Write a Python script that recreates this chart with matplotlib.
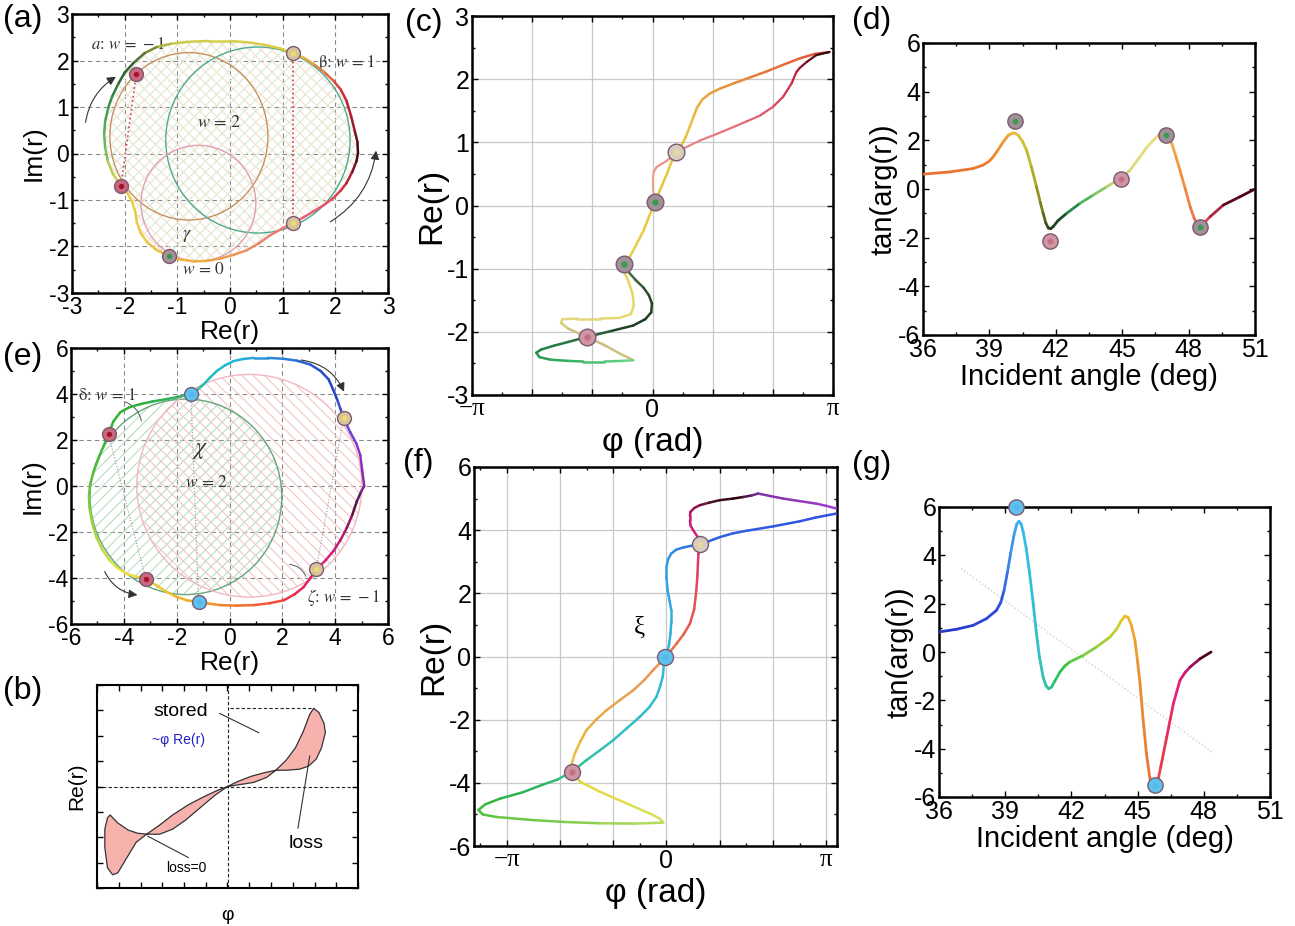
import numpy as np
import matplotlib
matplotlib.use("Agg")
import matplotlib.pyplot as plt
from matplotlib.collections import LineCollection
from matplotlib.colors import LinearSegmentedColormap
from matplotlib.patches import Ellipse, Polygon, FancyArrowPatch
from matplotlib.ticker import MultipleLocator

plt.rcParams["font.family"] = ["Liberation Sans", "DejaVu Sans"]
plt.rcParams["axes.unicode_minus"] = False
plt.rcParams["mathtext.fontset"] = "stix"
plt.rcParams["hatch.linewidth"] = 0.8

PI3 = np.pi / 3  # grid spacing of the phase axes

# ---------------- (a) reflection trajectory, first structure ----------------
a_re = [2.43, 2.42, 2.37, 2.30, 2.21, 2.10, 1.96, 1.78, 1.58, 1.40, 1.20, 0.95, 0.69, 0.35, 0.00,
        -0.40, -0.82, -1.12, -1.39, -1.62, -1.83, -2.00, -2.12, -2.24, -2.31, -2.37, -2.39, -2.37,
        -2.32, -2.22, -2.07, -1.93, -1.86, -1.80, -1.77, -1.70, -1.58, -1.40, -1.20, -0.95, -0.69,
        -0.45, -0.19, 0.07, 0.32, 0.55, 0.76, 0.98, 1.19, 1.40, 1.58, 1.78, 1.96, 2.10, 2.21, 2.32,
        2.40, 2.43]
a_im = [0.00, 0.25, 0.48, 0.80, 1.14, 1.38, 1.57, 1.76, 1.93, 2.06, 2.15, 2.26, 2.33, 2.39, 2.42,
        2.42, 2.40, 2.36, 2.29, 2.16, 1.95, 1.74, 1.50, 1.22, 0.99, 0.70, 0.41, 0.12,
        -0.17, -0.45, -0.69, -0.88, -1.03, -1.25, -1.47, -1.70, -1.90, -2.07, -2.19, -2.28, -2.32,
        -2.31, -2.26, -2.18, -2.08, -1.93, -1.76, -1.62, -1.50, -1.37, -1.25, -1.11, -0.96, -0.80,
        -0.64, -0.40, -0.17, 0.00]
a_colors = [(0, "#2a0a12"), (2, "#901828"), (4, "#c81e3a"), (6, "#e05040"), (8, "#e8a040"),
            (10, "#e0c840"), (14, "#d8d050"), (17, "#c8c848"), (19, "#607a38"), (21, "#2e5a30"),
            (24, "#3a9a50"), (27, "#70b860"), (29, "#c8d050"), (31, "#e8d040"), (36, "#ecc840"),
            (40, "#f0b040"), (44, "#ec9060"), (48, "#e87080"), (52, "#e05060"), (54, "#d02840"),
            (56, "#601020"), (57, "#2a0a12")]
# winding loops: (center x, center y, width, height, colour)
a_loops = [(-0.78, 0.37, 3.0, 3.6, "#c89060"),
           (0.53, 0.29, 3.5, 4.0, "#50a890"),
           (-0.60, -1.07, 2.18, 2.49, "#e0a0b0")]
a_pts_re = [-1.78, -2.07, -1.15, 1.19, 1.19]
a_pts_im = [1.71, -0.69, -2.21, 2.17, -1.50]
a_pts_kind = ["red", "red", "green", "sand", "sand"]

# ---------------- (c) Re(r) versus phase (phase in units of pi/3), first structure ----------------
c1_u = [2.94, 2.70, 2.45, 2.15, 1.89, 1.60, 1.34, 1.12, 0.95, 0.83, 0.74, 0.68, 0.62, 0.55, 0.48,
        0.39, 0.31, 0.24, 0.14, 0.04, -0.06, -0.15, -0.27, -0.37, -0.48, -0.47, -0.40, -0.33, -0.31,
        -0.36, -0.55, -0.87, -1.25, -1.50, -1.52, -1.40, -1.09, -0.80, -0.55, -0.38, -0.32]
c1_re = [2.43, 2.40, 2.33, 2.22, 2.12, 2.02, 1.93, 1.85, 1.77, 1.68, 1.55, 1.40, 1.25, 1.08, 0.95,
         0.84, 0.68, 0.50, 0.28, 0.05, -0.18, -0.40, -0.62, -0.80, -0.93, -1.05, -1.20, -1.40, -1.58,
         -1.72, -1.78, -1.79, -1.79, -1.80, -1.86, -1.95, -2.08, -2.21, -2.34, -2.42, -2.45]
c1_colors = [(0, "#e04a3a"), (4, "#e8783a"), (8, "#e8a03a"), (12, "#e8c040"), (19, "#e0c840"),
             (24, "#e8d050"), (29, "#e8d870"), (33, "#e0d880"), (36, "#c8c078"), (40, "#d0c080")]
c2a_u = [2.94, 2.72, 2.56, 2.45, 2.39, 2.31, 2.17, 2.00, 1.78, 1.56, 1.34, 1.06, 0.79, 0.51, 0.35,
         0.24, 0.07, 0.02, 0.01, 0.01, 0.04]
c2a_re = [2.43, 2.38, 2.27, 2.18, 2.11, 1.93, 1.72, 1.56, 1.42, 1.33, 1.24, 1.13, 1.03, 0.90, 0.80,
          0.71, 0.61, 0.53, 0.45, 0.24, 0.05]
c2a_colors = [(0, "#1a0508"), (3, "#a01030"), (5, "#d02848"), (8, "#e06070"), (12, "#e88088"),
              (15, "#f09090"), (18, "#f0a090"), (20, "#e8b080")]
c2b_u = [-0.48, -0.40, -0.28, -0.15, -0.06, -0.01, -0.02, -0.12, -0.32, -0.70, -1.09, -1.40, -1.64,
         -1.85, -1.93, -1.88, -1.70, -1.40, -1.15, -0.80, -0.50, -0.32]
c2b_re = [-0.93, -1.05, -1.18, -1.30, -1.42, -1.55, -1.69, -1.80, -1.90, -1.99, -2.08, -2.16, -2.22,
          -2.28, -2.33, -2.40, -2.44, -2.46, -2.47, -2.47, -2.46, -2.45]
c2b_colors = [(0, "#5a7a50"), (4, "#2a4a2a"), (8, "#1a3a20"), (10, "#2a6a40"), (14, "#208a48"),
              (17, "#30b060"), (19, "#50c878"), (21, "#70d890")]
c_pts_u = [0.39, 0.04, -0.48, -1.09]
c_pts_re = [0.84, 0.05, -0.93, -2.08]
c_pts_kind = ["light", "gray", "gray", "pink"]

# ---------------- (d) tan(arg r) versus incident angle, first structure ----------------
d_ang = [36.0, 37.2, 38.26, 38.71, 39.0, 39.17, 39.4, 39.62, 39.85, 40.0, 40.15, 40.3, 40.5, 40.68,
         40.9, 41.13, 41.3, 41.43, 41.55, 41.66, 41.77, 41.88, 42.1, 42.49, 43.09, 43.69, 44.3, 44.9,
         45.35, 45.8, 46.1, 46.4, 46.65, 46.86, 47.05, 47.24, 47.42, 47.61, 47.85, 48.07, 48.25,
         48.37, 48.52, 48.67, 48.97, 49.57, 50.32, 51.0]
d_tan = [0.61, 0.70, 0.84, 0.98, 1.15, 1.32, 1.62, 1.93, 2.20, 2.28, 2.30, 2.21, 1.95, 1.59,
         0.90, 0.09, -0.55, -1.00, -1.40, -1.60, -1.63, -1.55, -1.30, -1.00, -0.59, -0.25, 0.09, 0.43,
         0.77, 1.32, 1.70, 2.00, 2.22, 2.28, 2.15, 1.87, 1.35, 0.77, 0.00, -0.73, -1.20,
         -1.42, -1.50, -1.42, -1.14, -0.66, -0.32, 0.00]
d_colors = [(0, "#e87030"), (4, "#ec8030"), (7, "#f09830"), (10, "#e8c040"), (13, "#c8c030"),
            (15, "#a0a020"), (18, "#505818"), (20, "#203818"), (23, "#205030"), (24, "#30b058"),
            (26, "#a8d070"), (28, "#e0d878"), (31, "#e8e080"), (33, "#f0c860"), (36, "#f0a040"),
            (39, "#f08048"), (42, "#e86060"), (44, "#e03858"), (46, "#300010"), (47, "#600020")]
d_pts_ang = [40.15, 41.74, 44.94, 46.98, 48.52]
d_pts_tan = [2.80, -2.13, 0.43, 2.21, -1.55]
d_pts_kind = ["gray", "pink", "pink", "gray", "gray"]

# ---------------- (e) reflection trajectory, second structure ----------------
e_re = [5.10, 5.02, 4.95, 4.80, 4.57, 4.32, 4.20, 4.07, 3.92, 3.75, 3.45, 3.06, 2.55, 2.05, 1.45,
        0.91, 0.50, 0.15, -0.18, -0.48, -0.75, -0.98, -1.22, -1.46, -1.90, -2.37, -2.90, -3.38,
        -3.80, -4.14, -4.40, -4.58, -4.78, -4.96, -5.15, -5.28, -5.32, -5.30, -5.20, -5.03, -4.80,
        -4.52, -4.22, -3.89, -3.50, -3.17, -2.75, -2.37, -2.00, -1.62, -1.17, -0.75, -0.35, 0.25,
        0.91, 1.50, 2.05, 2.45, 2.80, 3.05, 3.28, 3.62, 3.94, 4.20, 4.44, 4.65, 4.82, 4.98, 5.10]
e_im = [0.00, 0.70, 1.34, 1.85, 2.34, 2.95, 3.35, 3.78, 4.20, 4.64, 5.00, 5.28, 5.45, 5.53, 5.57,
        5.57, 5.52, 5.43, 5.24, 5.00, 4.70, 4.42, 4.18, 4.02, 3.88, 3.78, 3.68, 3.56,
        3.42, 3.20, 2.80, 2.24, 1.70, 1.20, 0.60, 0.05, -0.45, -0.96, -1.60, -2.25, -2.80,
        -3.25, -3.58, -3.82, -3.95, -4.04, -4.33, -4.61, -4.82, -4.97, -5.04, -5.12, -5.18, -5.20,
        -5.18, -5.10, -4.97, -4.72, -4.40, -4.02, -3.63, -3.25, -2.82, -2.35, -1.82, -1.25, -0.67,
        -0.25, 0.00]
e_colors = [(0, "#8a2aa0"), (2, "#9030c8"), (5, "#5050e0"), (8, "#2040c0"), (11, "#2858d0"),
            (14, "#3090e0"), (17, "#20b8d8"), (21, "#20c0b0"), (24, "#30b060"), (28, "#30b030"),
            (32, "#38b830"), (35, "#60c040"), (39, "#b0d840"), (43, "#f0e040"), (47, "#f0c030"),
            (51, "#f09a28"), (54, "#f06a30"), (56, "#f04040"), (58, "#e02060"), (61, "#e02080"),
            (64, "#b01870"), (66, "#401030"), (68, "#8a2aa0")]
e_loops = [(-1.65, -0.47, 7.26, 8.5, "#60a878", "#b8dfc2", "///"),
           (0.75, 0.01, 8.52, 9.68, "#f0b8c0", "#f2c6c6", "\\\\\\")]
e_pts_re = [4.32, -1.46, -4.58, -3.17, -1.17, 3.28]
e_pts_im = [2.95, 4.02, 2.24, -4.04, -5.04, -3.63]
e_pts_kind = ["sand", "blue", "red", "red", "blue", "sand"]

# ---------------- (f) Re(r) versus phase (phase in units of pi/3), second structure ----------------
f_u = [3.20, 2.80, 2.50, 2.00, 1.50, 1.25, 1.00, 0.875, 0.75, 0.625, 0.45, 0.31, 0.18, 0.09, 0.03,
       0.00, 0.00, 0.02, 0.06, 0.09, 0.09, 0.075, 0.05, 0.02, -0.03, -0.05, -0.07, -0.12, -0.19,
       -0.32, -0.50, -0.75, -1.00, -1.25, -1.50, -1.78, -2.05, -2.31, -2.70, -3.125, -3.40, -3.53,
       -3.45, -3.20, -2.50, -1.90, -1.25, -0.60, -0.06, -0.12, -0.25, -0.75, -1.25, -1.625, -1.78,
       -1.78, -1.72, -1.62, -1.50, -1.32, -1.125, -0.875, -0.625, -0.42, -0.25, -0.12, -0.03, 0.08,
       0.19, 0.32, 0.44, 0.52, 0.56, 0.58, 0.59, 0.60, 0.625, 0.58, 0.50, 0.45, 0.44, 0.44, 0.45,
       0.52, 0.625, 0.80, 1.00, 1.25, 1.44, 1.60, 1.72, 1.95, 2.19, 2.50, 2.81, 3.00, 3.20]
f_re = [4.53, 4.40, 4.28, 4.12, 3.98, 3.90, 3.78, 3.70, 3.62, 3.55, 3.50, 3.45, 3.38, 3.26, 3.08,
        2.84, 2.50, 2.10, 1.75, 1.47, 1.10, 0.73, 0.40, 0.15, -0.01, -0.30, -0.64, -0.95, -1.28,
        -1.60, -1.91, -2.28, -2.65, -2.97, -3.28, -3.65, -3.90, -4.05, -4.30, -4.50, -4.68, -4.86,
        -5.00, -5.08, -5.18, -5.24, -5.28, -5.29, -5.26, -5.14, -5.02, -4.65, -4.28, -3.96, -3.65,
        -3.40, -3.07, -2.70, -2.33, -2.00, -1.70, -1.38, -1.07, -0.75, -0.43, -0.20, -0.01, 0.18,
        0.41, 0.70, 1.04, 1.50, 2.10, 2.55, 2.94, 3.25, 3.55, 3.80, 4.00, 4.15, 4.31, 4.45, 4.58,
        4.70, 4.79, 4.87, 4.95, 5.00, 5.05, 5.10, 5.16, 5.08, 5.00, 4.92, 4.84, 4.77, 4.68]
f_colors = [(0, "#3050e0"), (9, "#3068e0"), (15, "#30a0e0"), (24, "#30b8e0"), (32, "#30c0c0"),
            (35, "#30c090"), (39, "#30b040"), (42, "#50c040"), (46, "#90d050"), (48, "#c0e060"),
            (51, "#e0e050"), (54, "#e8d040"), (58, "#e8b040"), (62, "#e8a050"), (66, "#f08850"),
            (69, "#e86048"), (74, "#e04060"), (78, "#d02080"), (82, "#c01870"), (86, "#401020"),
            (88, "#300010"), (90, "#8030a0"), (96, "#a040d0")]
f_pts_u = [-1.78, -0.03, 0.625]
f_pts_re = [-3.65, -0.01, 3.55]
f_pts_kind = ["pink", "blue", "light"]

# ---------------- (g) tan(arg r) versus incident angle, second structure ----------------
g_ang = [36.0, 36.79, 37.54, 38.15, 38.6, 38.8, 38.95, 39.1, 39.25, 39.4, 39.52, 39.62, 39.72,
         39.82, 39.95, 40.1, 40.27, 40.4, 40.55, 40.72, 40.85, 40.97, 41.1, 41.25, 41.48, 41.7,
         41.93, 42.54, 43.14, 43.75, 44.05, 44.25, 44.43, 44.58, 44.72, 44.88, 45.0, 45.11, 45.25,
         45.4, 45.55, 45.68, 45.79, 45.9, 46.05, 46.32, 46.62, 46.92, 47.15, 47.38, 47.83, 48.33]
g_tan = [0.83, 0.94, 1.10, 1.38, 1.72, 2.05, 2.55, 3.30, 4.10, 4.85, 5.28, 5.41, 5.30,
         4.95, 4.30, 3.30, 2.00, 0.90, -0.20, -1.05, -1.40, -1.52, -1.45, -1.20, -0.83, -0.58,
         -0.41, -0.14, 0.21, 0.62, 0.95, 1.28, 1.49, 1.42, 1.10, 0.48, -0.40, -1.31, -2.80,
         -4.20, -5.20, -5.52, -5.59, -5.40, -4.75, -3.52, -2.14, -1.17, -0.85, -0.62, -0.28, 0.00]
g_colors = [(0, "#2838c8"), (5, "#3050e0"), (8, "#3c90e8"), (11, "#40b0f0"), (15, "#30c0e0"),
            (19, "#30c0b8"), (22, "#30c080"), (25, "#30c040"), (28, "#90d040"), (30, "#c8d030"),
            (32, "#f0c030"), (35, "#f0a030"), (38, "#e88830"), (42, "#f06040"), (45, "#e83050"),
            (47, "#e02080"), (49, "#c01870"), (51, "#300010")]
g_pts_ang = [39.48, 45.79]
g_pts_tan = [6.0, -5.52]
g_trend_ang = [37.0, 48.36]
g_trend_tan = [3.45, -4.14]

# ---------------- (b) schematic of stored energy and loss ----------------
b_x = [-0.90, -0.84, -0.76, -0.69, -0.62, -0.52, -0.42, -0.30, -0.18, -0.08, 0.00, 0.08, 0.18, 0.28,
       0.37, 0.45, 0.55, 0.62, 0.68, 0.72, 0.75, 0.74, 0.70, 0.66, 0.63, 0.58, 0.52, 0.45, 0.37,
       0.30, 0.20, 0.10, 0.00, -0.10, -0.21, -0.32, -0.42, -0.52, -0.62, -0.70, -0.78, -0.84,
       -0.88, -0.92, -0.94, -0.94, -0.92]
b_y = [-0.28, -0.36, -0.43, -0.46, -0.47, -0.38, -0.28, -0.18, -0.10, -0.04, 0.00, 0.05, 0.10, 0.135,
       0.16, 0.16, 0.17, 0.20, 0.27, 0.38, 0.53, 0.62, 0.73, 0.77, 0.71, 0.54, 0.38, 0.26, 0.16,
       0.09, 0.04, 0.02, 0.00, -0.09, -0.21, -0.33, -0.42, -0.47, -0.47, -0.55, -0.72, -0.85,
       -0.87, -0.80, -0.60, -0.42, -0.31]

MARK = {"red": ("#c8687c", "#a8102a"), "green": ("#a89098", "#2f9a4c"),
        "sand": ("#d8c49c", "#ecdc70"), "gray": ("#a09098", "#3a9a50"),
        "light": ("#d8ccc0", "#e8d8a0"), "pink": ("#cf95a5", "#c07080"),
        "blue": ("#5ec2ee", "#56b8ea")}

W, H = 1295, 926
fig = plt.figure(figsize=(W / 100, H / 100), dpi=100)


def add_ax(l, t, r, b):
    return fig.add_axes([l / W, 1 - b / H, (r - l) / W, (b - t) / H])


def style(ax, tick_fs, lw=1.8):
    for s in ax.spines.values():
        s.set_linewidth(lw)
    ax.tick_params(which="both", direction="in", top=True, right=True, width=1.0,
                   labelsize=tick_fs, pad=2)
    ax.tick_params(which="major", length=4)
    ax.tick_params(which="minor", length=2.5)


def grad_line(ax, x, y, stops, lw=1.8, z=4):
    """Polyline through (x, y), coloured along its length by (point index, colour) stops."""
    n = len(x)
    pts = np.column_stack([x, y]).reshape(-1, 1, 2)
    segs = np.concatenate([pts[:-1], pts[1:]], axis=1)
    cmap = LinearSegmentedColormap.from_list("path", [(i / (n - 1), c) for i, c in stops])
    mids = (np.arange(n - 1) + 0.5) / (n - 1)
    lc = LineCollection(segs, colors=cmap(mids), linewidths=lw,
                        capstyle="round", joinstyle="round", zorder=z)
    ax.add_collection(lc)


def markers(ax, xs, ys, kinds, size, edge="#7a5a70"):
    for x, y, k in zip(xs, ys, kinds):
        face, core = MARK[k]
        ax.plot(x, y, "o", ms=size, mfc=face, mec=edge, mew=1.0, zorder=8, clip_on=False)
        ax.plot(x, y, "o", ms=size * 0.38, mfc=core, mec="none", zorder=9, clip_on=False)


def arrow(ax, p0, p1, rad):
    ax.add_patch(FancyArrowPatch(p0, p1, connectionstyle=f"arc3,rad={rad}", arrowstyle="-|>",
                                 mutation_scale=13, color="#333333", lw=0.8, zorder=7))


def panel_label(x, y, s):
    fig.text(x / W, 1 - y / H, s, fontsize=23, ha="left", va="top")


def dash_grid(ax):
    ax.grid(True, which="major", ls=(0, (4, 3)), color="#8a8a8a", lw=0.8)
    ax.set_axisbelow(True)


serif = dict(fontsize=12, color="#333333")

# ================= (a) =================
axA = add_ax(72, 14, 388, 293)
axA.set_xlim(-3, 3)
axA.set_ylim(-3, 3)
axA.set_xticks(range(-3, 4))
axA.set_yticks(range(-3, 4))
axA.xaxis.set_minor_locator(MultipleLocator(0.5))
axA.yaxis.set_minor_locator(MultipleLocator(0.5))
style(axA, 16.5)
dash_grid(axA)
outline = np.column_stack([a_re, a_im])
axA.add_patch(Polygon(outline, closed=True, fill=False, hatch="///", edgecolor="#d6ebd6", lw=0, zorder=1))
axA.add_patch(Polygon(outline, closed=True, fill=False, hatch="\\\\\\", edgecolor="#f2e0c8", lw=0, zorder=1))
for cx, cy, w, h, col in a_loops:
    axA.add_patch(Ellipse((cx, cy), w, h, fill=False, ec=col, lw=1.0, zorder=3))
grad_line(axA, a_re, a_im, a_colors, lw=1.8)
axA.plot(a_pts_re[:2], a_pts_im[:2], ls=":", color="#d04058", lw=1.2, zorder=5)
axA.plot(a_pts_re[3:], a_pts_im[3:], ls=":", color="#d04058", lw=1.2, zorder=5)
markers(axA, a_pts_re, a_pts_im, a_pts_kind, 10)
arrow(axA, (-2.75, 0.61), (-2.12, 1.68), -0.25)
arrow(axA, (1.86, -1.50), (2.78, 0.12), 0.25)
axA.text(-2.64, 2.36, r"$a\!:\,w\,=\,-1$", ha="left", va="center", **serif)
axA.text(1.67, 1.95, r"$\mathrm{\beta}\!:\,w\,=\,1$", ha="left", va="center", **serif)
axA.text(-0.63, 0.67, r"$w\,=\,2$", ha="left", va="center", fontsize=13, color="#333333")
axA.text(-0.82, -1.76, r"$\gamma$", ha="center", va="center", fontsize=13, color="#333333")
axA.text(-0.92, -2.48, r"$w\,=\,0$", ha="left", va="center", fontsize=12.5, color="#333333")
axA.set_xlabel("Re(r)", fontsize=19, labelpad=1)
axA.set_ylabel("Im(r)", fontsize=19, labelpad=2)
panel_label(3, 4, "(a)")

# ================= (e) =================
axE = add_ax(71, 348, 388, 624)
axE.set_xlim(-6, 6)
axE.set_ylim(-6, 6)
axE.set_xticks(range(-6, 7, 2))
axE.set_yticks(range(-6, 7, 2))
axE.xaxis.set_minor_locator(MultipleLocator(1))
axE.yaxis.set_minor_locator(MultipleLocator(1))
style(axE, 16.5)
dash_grid(axE)
for cx, cy, w, h, col, hcol, hat in e_loops:
    axE.add_patch(Ellipse((cx, cy), w, h, fill=False, hatch=hat, ec=hcol, lw=0, zorder=1))
    axE.add_patch(Ellipse((cx, cy), w, h, fill=False, ec=col, lw=1.0, zorder=3))
grad_line(axE, e_re, e_im, e_colors, lw=1.8)
for i, j in [(2, 3), (1, 4), (0, 5)]:
    axE.plot([e_pts_re[i], e_pts_re[j]], [e_pts_im[i], e_pts_im[j]], ls=":", color="#999999",
             lw=0.8, zorder=2)
markers(axE, e_pts_re, e_pts_im, e_pts_kind, 10)
arrow(axE, (2.61, 5.49), (4.38, 3.99), -0.3)
arrow(axE, (-4.77, -3.61), (-3.38, -4.75), 0.3)
axE.annotate("", xy=(-3.32, 2.7), xytext=(-4.08, 3.7),
             arrowprops=dict(arrowstyle="-", color="#555555", lw=0.7, connectionstyle="arc3,rad=-0.35"))
axE.annotate("", xy=(2.93, -4.04), xytext=(2.17, -3.40),
             arrowprops=dict(arrowstyle="-", color="#555555", lw=0.7, connectionstyle="arc3,rad=-0.35"))
axE.text(-5.72, 3.94, r"$\mathrm{\delta}\!:\,w\,=\,1$", ha="left", va="center", **serif)
axE.text(-1.11, 1.55, r"$\chi$", ha="center", va="center", fontsize=17, color="#333333")
axE.text(-1.68, 0.19, r"$w\,=\,2$", ha="left", va="center", fontsize=12.5, color="#333333")
axE.text(2.93, -4.83, r"$\zeta\!:\,w\,=\,-1$", ha="left", va="center", **serif)
axE.set_xlabel("Re(r)", fontsize=19, labelpad=1)
axE.set_ylabel("Im(r)", fontsize=19, labelpad=2)
panel_label(3, 342, "(e)")

# ================= (b) =================
axB = add_ax(97, 685, 358, 888)
axB.set_xlim(-1, 1)
axB.set_ylim(-1, 1)
axB.xaxis.set_major_locator(MultipleLocator(1 / 6))
axB.yaxis.set_major_locator(MultipleLocator(0.25))
axB.tick_params(labelbottom=False, labelleft=False)
style(axB, 10, lw=1.5)
axB.axhline(0, ls=(0, (3, 2)), color="#222222", lw=0.8, zorder=1)
axB.axvline(0, ls=(0, (3, 2)), color="#222222", lw=0.8, zorder=1)
axB.plot([0.02, 0.66], [0.77, 0.77], ls=(0, (3, 2)), color="#222222", lw=0.8, zorder=1)
axB.fill(b_x, b_y, facecolor="#f7b2ae", edgecolor="#333333", lw=0.9, zorder=3)
axB.text(-0.57, 0.74, "stored", fontsize=14, ha="left", va="center")
axB.plot([-0.06, 0.24], [0.72, 0.53], color="#333333", lw=0.8)
axB.text(-0.58, 0.46, "~φ Re(r)", fontsize=10, color="#2020c0", ha="left", va="center")
axB.text(0.47, -0.56, "loss", fontsize=14, ha="left", va="center")
axB.plot([0.54, 0.63], [-0.41, 0.30], color="#333333", lw=0.8, zorder=4)
axB.text(-0.47, -0.80, "loss=0", fontsize=10, ha="left", va="center")
axB.plot([-0.61, -0.30], [-0.49, -0.70], color="#333333", lw=0.8, zorder=4)
axB.set_ylabel("Re(r)", fontsize=15, labelpad=8)
axB.set_xlabel("φ", fontsize=14, labelpad=14)
panel_label(3, 676, "(b)")


# ================= (c) and (f) phase axes =================
def phase_axes(ax, xlim, ylim, ystep, yminor):
    ax.set_xlim(*xlim)
    ax.set_ylim(*ylim)
    ax.set_xticks([k * PI3 for k in range(-3, 4)])
    ax.set_xticklabels(["−π", "", "", "0", "", "", "π"])
    for lab in ax.get_xticklabels():
        if "π" in lab.get_text():
            lab.set_fontfamily("Liberation Serif")
    ax.xaxis.set_minor_locator(MultipleLocator(PI3 / 2))
    ax.yaxis.set_major_locator(MultipleLocator(ystep))
    ax.yaxis.set_minor_locator(MultipleLocator(yminor))
    style(ax, 18)
    ax.grid(True, which="major", color="#c8c8c8", lw=0.9)
    ax.set_axisbelow(True)
    ax.set_xlabel("φ (rad)", fontsize=24, labelpad=4)
    ax.set_ylabel("Re(r)", fontsize=24, labelpad=0)


axC = add_ax(472, 16, 833, 395)
phase_axes(axC, (-np.pi, np.pi), (-3, 3), 1, 0.5)
grad_line(axC, np.array(c1_u) * PI3, c1_re, c1_colors, lw=1.8)
grad_line(axC, np.array(c2a_u) * PI3, c2a_re, c2a_colors, lw=1.6)
grad_line(axC, np.array(c2b_u) * PI3, c2b_re, c2b_colors, lw=1.8)
markers(axC, np.array(c_pts_u) * PI3, c_pts_re, c_pts_kind, 12)
panel_label(405, 8, "(c)")

axF = add_ax(474, 467, 837, 846)
phase_axes(axF, (-3.6125 * PI3, 3.2 * PI3), (-6, 6), 2, 1)
grad_line(axF, np.array(f_u) * PI3, f_re, f_colors, lw=1.8)
markers(axF, np.array(f_pts_u) * PI3, f_pts_re, f_pts_kind, 11.5)
axF.text(-0.5 * PI3, 0.9, "ξ", fontsize=18, ha="center", va="center", fontfamily="Liberation Serif")
panel_label(403, 448, "(f)")


# ================= (d) and (g) angle axes =================
def angle_axes(ax):
    ax.set_xlim(36, 51)
    ax.set_ylim(-6, 6)
    ax.xaxis.set_major_locator(MultipleLocator(3))
    ax.xaxis.set_minor_locator(MultipleLocator(1.5))
    ax.yaxis.set_major_locator(MultipleLocator(2))
    ax.yaxis.set_minor_locator(MultipleLocator(1))
    style(ax, 18)
    ax.set_xlabel("Incident angle (deg)", fontsize=21, labelpad=1)
    ax.set_ylabel("tan(arg(r))", fontsize=21, labelpad=0)


axD = add_ax(923, 43, 1255, 335)
angle_axes(axD)
grad_line(axD, d_ang, d_tan, d_colors, lw=2.0)
markers(axD, d_pts_ang, d_pts_tan, d_pts_kind, 11)
panel_label(852, 6, "(d)")

axG = add_ax(939, 507, 1270, 797)
angle_axes(axG)
axG.plot(g_trend_ang, g_trend_tan, ls=":", color="#cfcfcf", lw=1.0, zorder=1)
grad_line(axG, g_ang, g_tan, g_colors, lw=2.0)
markers(axG, g_pts_ang, g_pts_tan, ["blue", "blue"], 11)
panel_label(852, 450, "(g)")

fig.savefig("out.png", dpi=100)
